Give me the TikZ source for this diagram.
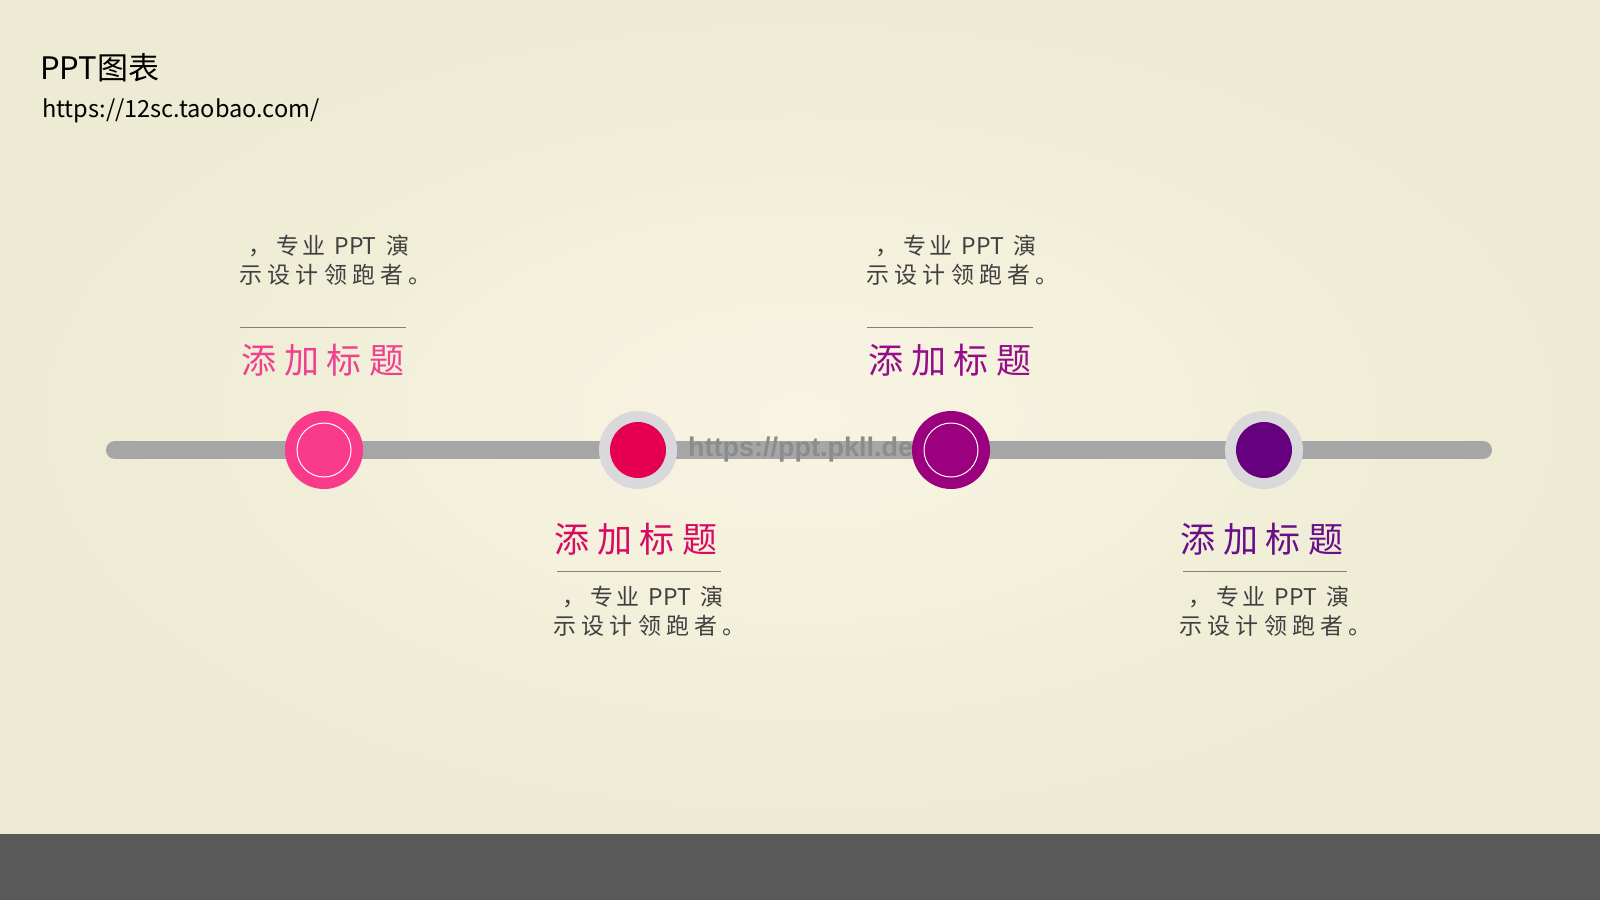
\documentclass[tikz,border=0pt]{standalone}
\usepackage{fontspec}
\setmainfont{Noto Sans CJK SC}
\newfontfamily\wmfont{Liberation Sans}
\usetikzlibrary{positioning}
\definecolor{bgmid}{HTML}{F8F4E2}
\definecolor{bgedge}{HTML}{EDEBD3}
\definecolor{band}{HTML}{595959}
\definecolor{bargray}{HTML}{A6A6A6}
\definecolor{ringgray}{HTML}{D9D9DB}
\definecolor{rose}{HTML}{F93A8B}
\definecolor{roseT}{HTML}{EE4290}
\definecolor{crimson}{HTML}{E4004F}
\definecolor{crimsonT}{HTML}{D90A63}
\definecolor{plum}{HTML}{9B007F}
\definecolor{plumT}{HTML}{950D88}
\definecolor{grape}{HTML}{66007F}
\definecolor{grapeT}{HTML}{6A0F8A}
\definecolor{bodytext}{HTML}{404040}
\definecolor{rulegray}{HTML}{808080}
\newcommand{\blurb}{\hspace*{9pt}，专\hspace{3pt}业\hspace{9pt}{\addfontfeatures{LetterSpace=0}PPT}\hspace{10pt}演\\示设计领跑者。}

\begin{document}
\begin{tikzpicture}[
    x=1pt,y=-1pt,
    bar/.style={draw=bargray,line width=18pt,line cap=round},
    bigdot/.style={circle,minimum size=78pt,inner sep=0pt},
    whitering/.style={circle,draw=white,line width=1pt,minimum size=54pt,inner sep=0pt},
    grayring/.style={circle,fill=ringgray,minimum size=78pt,inner sep=0pt},
    smalldot/.style={circle,minimum size=56pt,inner sep=0pt},
    title/.style={font=\fontsize{35pt}{40pt}\selectfont\addfontfeatures{LetterSpace=22},inner sep=0pt},
    body/.style={font=\fontsize{23pt}{28.5pt}\selectfont\addfontfeatures{LetterSpace=23},text=bodytext,align=left,inner sep=0pt,anchor=west},
    rule/.style={draw=rulegray,line width=1pt},
    wmark/.style={font=\wmfont\bfseries\fontsize{27pt}{32pt}\selectfont,text=black!45,inner sep=0pt}
  ]
  \useasboundingbox (0,0) rectangle (1600,900);
  \shade[inner color=bgmid,outer color=bgedge] (0,0) rectangle (1600,834);
  \fill[band] (0,834) rectangle (1600,900);

  \node[anchor=base west,inner sep=0pt,font=\fontsize{31pt}{36pt}\selectfont] (head) at (40,79) {PPT图表};
  \node[anchor=base west,inner sep=0pt,font=\fontsize{23.6pt}{28pt}\selectfont] (shop) at (42,117) {https://12sc.taobao.com/};

  % timeline
  \coordinate (barL) at (115,450);
  \coordinate (barR) at (1483,450);
  \draw[bar] (barL) -- (barR);
  \node[wmark,anchor=west] (wm) at (688,450) {https://ppt.pkll.de};

  \foreach \i/\x/\col in {1/324/rose,3/951/plum} {
    \node[bigdot,fill=\col] (c\i) at (\x,450) {};
    \node[whitering] (core\i) at (c\i) {};
  }
  \foreach \i/\x/\col in {2/638/crimson,4/1264/grape} {
    \node[grayring] (c\i) at (\x,450) {};
    \node[smalldot,fill=\col] (core\i) at (c\i) {};
  }

  % labels above
  \foreach \i/\x/\col in {1/324/roseT,3/951/plumT} {
    \node[title,text=\col] (t\i) at (\x-1,360) {添加标题};
    \draw[rule] ([xshift=-1pt,yshift=33pt]t\i.west) -- ([xshift=1pt,yshift=33pt]t\i.east);
    \node[body] (d\i) at (\x-85,260) {\blurb};
  }
  % labels below
  \foreach \i/\x/\col in {2/638/crimsonT,4/1264/grapeT} {
    \node[title,text=\col] (t\i) at (\x-2,539) {添加标题};
    \draw[rule] ([xshift=3pt,yshift=-32pt]t\i.west) -- ([xshift=3pt,yshift=-32pt]t\i.east);
    \node[body] (d\i) at (\x-85,611) {\blurb};
  }
\end{tikzpicture}
\end{document}
